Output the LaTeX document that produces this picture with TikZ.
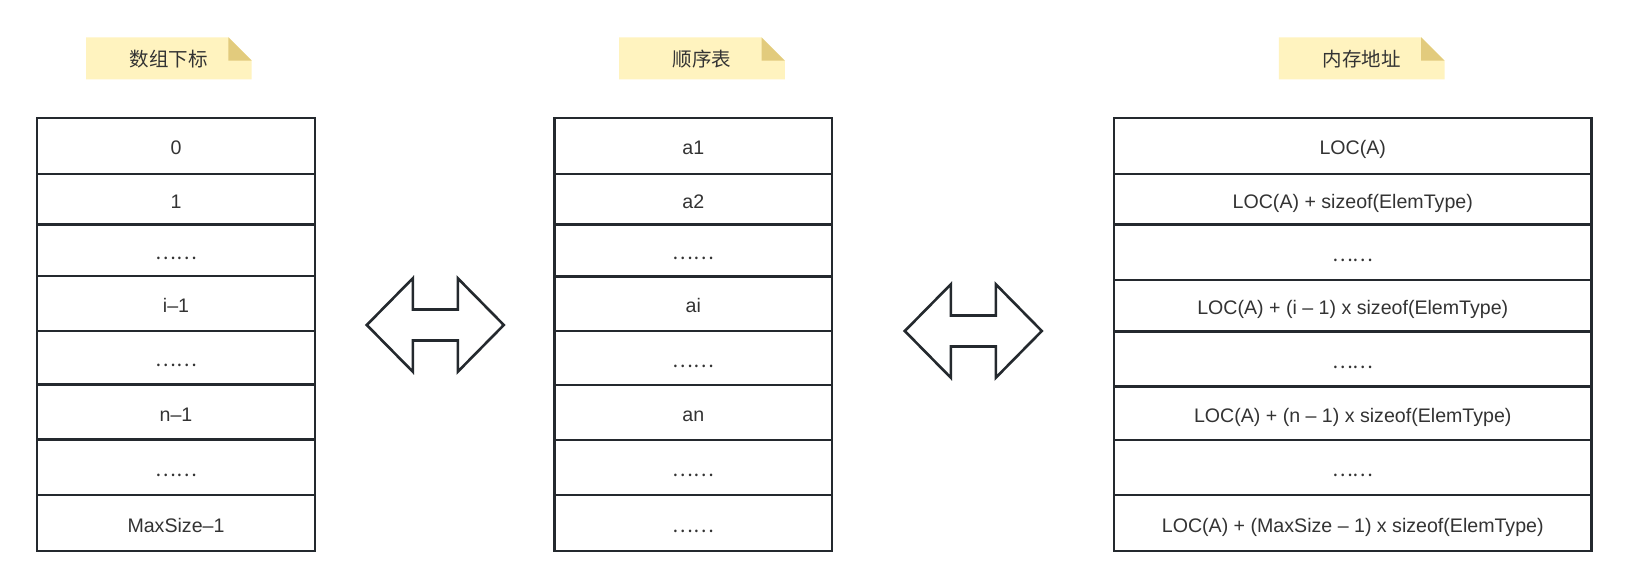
\documentclass[tikz,border=0pt]{standalone}
\usepackage{fontspec}
\setmainfont{Liberation Sans}
\newfontfamily\cjk{Noto Sans CJK SC}
\definecolor{linec}{HTML}{24292E}
\definecolor{txt}{HTML}{333333}
\definecolor{notefill}{HTML}{FFF3BF}
\definecolor{notefold}{HTML}{E2CB7D}
\tikzset{
  cell/.style={draw=linec, line width=2.6pt, inner sep=0pt, text=txt,
    font=\fontsize{19.6}{21}\selectfont, text height=18pt, text depth=0pt},
  dblarrow/.style={draw=linec, line width=2.6pt, line join=miter, fill=white},
  notetext/.style={text=txt, font=\cjk\fontsize{19.5}{21}\selectfont, inner sep=0pt}
}
\newcommand{\edots}{{\cjk ……}}
\begin{document}
\begin{tikzpicture}[x=1pt,y=-1pt]
\useasboundingbox[fill=white] (0,0) rectangle (1629,588);

% notes
\foreach \nx/\nm/\lab in {86/n1/数组下标, 619.2/n2/顺序表, 1278.9/n3/内存地址}{
  \fill[notefill] (\nx,37.3) -- ++(142.3,0) -- ++(23.4,23.4) -- ++(0,18.6) -- ++(-165.7,0) -- cycle;
  \fill[notefold] (\nx+142.3,37.3) -- ++(0,23.4) -- ++(23.4,0) -- cycle;
  \node[notetext] (\nm) at (\nx+82.85,59) {\lab};
}

% left table
\node[cell, minimum width=278pt, minimum height=56pt]   (L1) at (176,146) {0};
\node[cell, minimum width=278pt, minimum height=50.5pt] (L2) at (176,199.25) {1};
\node[cell, minimum width=278pt, minimum height=51.5pt] (L3) at (176,250.25) {\edots};
\node[cell, minimum width=278pt, minimum height=55pt]   (L4) at (176,303.5) {i–1};
\node[cell, minimum width=278pt, minimum height=53.5pt] (L5) at (176,357.75) {\edots};
\node[cell, minimum width=278pt, minimum height=55pt]   (L6) at (176,412) {n–1};
\node[cell, minimum width=278pt, minimum height=55.5pt] (L7) at (176,467.25) {\edots};
\node[cell, minimum width=278pt, minimum height=56pt]   (L8) at (176,523) {MaxSize–1};

% middle table
\node[cell, minimum width=277.5pt, minimum height=56pt]   (M1) at (693.25,146) {a1};
\node[cell, minimum width=277.5pt, minimum height=50.5pt] (M2) at (693.25,199.25) {a2};
\node[cell, minimum width=277.5pt, minimum height=52pt]   (M3) at (693.25,250.5) {\edots};
\node[cell, minimum width=277.5pt, minimum height=54.5pt] (M4) at (693.25,303.75) {ai};
\node[cell, minimum width=277.5pt, minimum height=54pt]   (M5) at (693.25,358) {\edots};
\node[cell, minimum width=277.5pt, minimum height=55pt]   (M6) at (693.25,412.5) {an};
\node[cell, minimum width=277.5pt, minimum height=55pt]   (M7) at (693.25,467.5) {\edots};
\node[cell, minimum width=277.5pt, minimum height=56pt]   (M8) at (693.25,523) {\edots};

% right table
\node[cell, minimum width=477.5pt, minimum height=56pt]   (R1) at (1352.75,146) {LOC(A)};
\node[cell, minimum width=477.5pt, minimum height=50.5pt] (R2) at (1352.75,199.25) {LOC(A) + sizeof(ElemType)};
\node[cell, minimum width=477.5pt, minimum height=55.5pt] (R3) at (1352.75,252.25) {\edots};
\node[cell, minimum width=477.5pt, minimum height=51.5pt] (R4) at (1352.75,305.75) {LOC(A) + (i – 1) x sizeof(ElemType)};
\node[cell, minimum width=477.5pt, minimum height=55pt]   (R5) at (1352.75,359) {\edots};
\node[cell, minimum width=477.5pt, minimum height=53.5pt] (R6) at (1352.75,413.25) {LOC(A) + (n – 1) x sizeof(ElemType)};
\node[cell, minimum width=477.5pt, minimum height=55pt]   (R7) at (1352.75,467.5) {\edots};
\node[cell, minimum width=477.5pt, minimum height=56pt]   (R8) at (1352.75,523) {LOC(A) + (MaxSize – 1) x sizeof(ElemType)};

% double arrows
\coordinate (A1) at (435.3,325);
\coordinate (A2) at (973.3,331);
\foreach \c in {A1,A2}{
  \draw[dblarrow] ([xshift=-68.5pt]\c) -- ([xshift=-22.5pt,yshift=46.7pt]\c) -- ([xshift=-22.5pt,yshift=15.5pt]\c)
    -- ([xshift=22.5pt,yshift=15.5pt]\c) -- ([xshift=22.5pt,yshift=46.7pt]\c) -- ([xshift=68.5pt]\c)
    -- ([xshift=22.5pt,yshift=-46.7pt]\c) -- ([xshift=22.5pt,yshift=-15.5pt]\c)
    -- ([xshift=-22.5pt,yshift=-15.5pt]\c) -- ([xshift=-22.5pt,yshift=-46.7pt]\c) -- cycle;
}
\end{tikzpicture}
\end{document}
